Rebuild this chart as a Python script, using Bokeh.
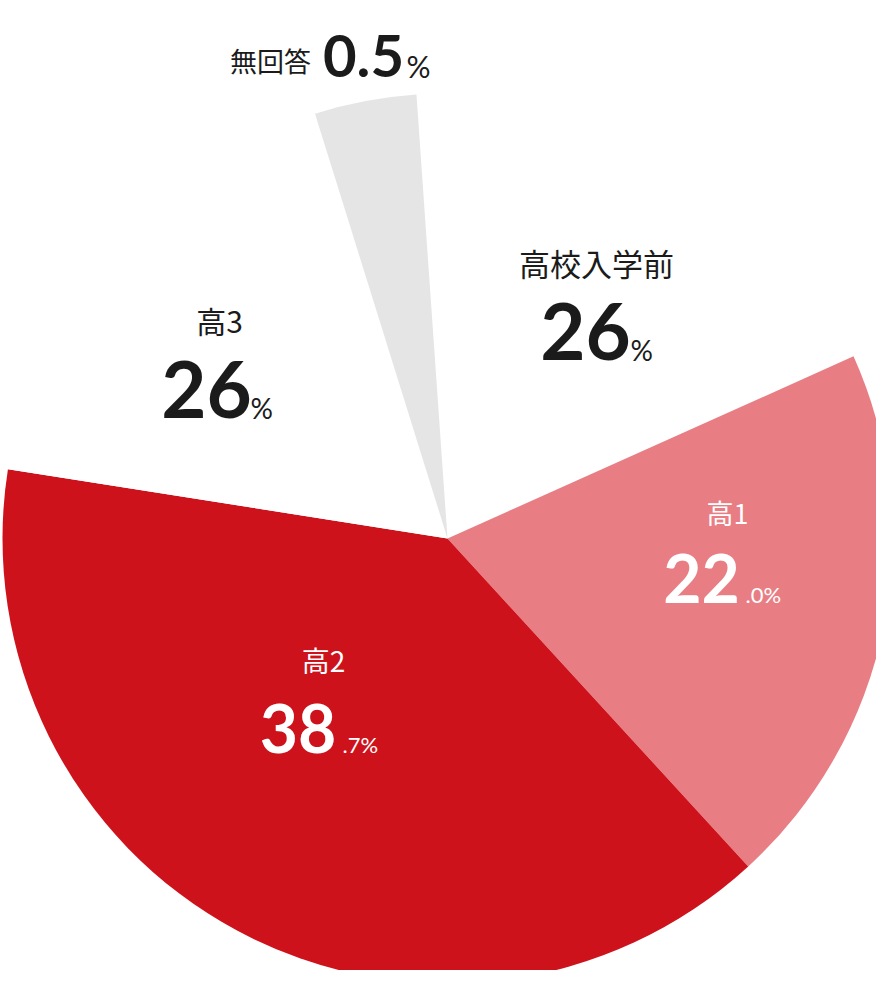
import math
from bokeh.plotting import figure
from bokeh.models import ColumnDataSource, Range1d
from bokeh.core.properties import value
from bokeh.embed import file_html
from bokeh.resources import INLINE

# ---- data ----
categories = ["高校入学前", "高1", "高2", "高3", "無回答"]
shares = [19.4, 19.9, 39.3, 17.7, 3.7]          # drawn share of the circle (%)
value_main = ["26", "22", "38", "26", "0.5"]     # printed value, large part
value_suffix = ["%", ".0%", ".7%", "%", "%"]     # printed value, small part
colors = ["#FFFFFF", "#E87E84", "#CE121C", "#FFFFFF", "#E5E5E5"]

# ---- figure ----
W, H = 876, 970
p = figure(width=W, height=H, x_range=Range1d(0, W), y_range=Range1d(0, H),
           output_backend="svg", toolbar_location=None, min_border=0,
           outline_line_color=None)
p.axis.visible = False
p.grid.visible = False
p.background_fill_color = "white"
p.border_fill_color = "white"

cx, cy, R = 447, H - 538, 445
start_deg = -4.0  # clockwise from 12 o'clock
total = sum(shares)
starts, ends = [], []
acc = start_deg
for s in shares:
    a1 = acc + s / total * 360.0
    starts.append(math.radians(90 - acc))
    ends.append(math.radians(90 - a1))
    acc = a1
src = ColumnDataSource(dict(cat=categories, start=starts, end=ends, color=colors))
p.wedge(x=cx, y=cy, radius=R, start_angle="start", end_angle="end",
        direction="clock", fill_color="color", line_color=None, source=src)

DARK = "#1B1B1B"
CJK = "Noto Sans CJK JP"
NUM = "Lato"
NUM_SMALL = "Lato"

def txt(xp, yp, s, size, color, font, align, baseline, style="normal"):
    p.text(x=[xp], y=[H - yp], text=[s], text_font=value(font),
           text_font_size=f"{size}px", text_color=color, text_align=align,
           text_baseline=baseline, text_font_style=style)

# layout per category: name centre, number ink span/baseline/size, suffix left/size, colour
layout = [
    dict(nx=596, ny=265, ns=31, m0=542, m1=628, my=360, ms=78, sx=631, ss=28, c=DARK),
    dict(nx=727, ny=515, ns=27, m0=662, m1=740, my=602, ms=66, sx=746, ss=22, c="white"),
    dict(nx=323, ny=662, ns=28, m0=255, m1=340, my=752, ms=66, sx=343, ss=22, c="white"),
    dict(nx=219, ny=322, ns=30, m0=165, m1=247, my=418, ms=78, sx=251, ss=28, c=DARK),
    dict(nx=270, ny=63, ns=27, m0=323, m1=403, my=77, ms=58, sx=407, ss=30, c=DARK),
]
K = 0.37  # renderer places the alphabetic baseline this many ems low
for i, L in enumerate(layout):
    txt(L["nx"], L["ny"] - 3, categories[i], L["ns"], L["c"], CJK, "center", "middle")
    txt((L["m0"] + L["m1"]) / 2, L["my"] - K * L["ms"], value_main[i], L["ms"],
        L["c"], NUM, "center", "alphabetic", "bold")
    txt(L["sx"] - 1, L["my"] - K * L["ss"], value_suffix[i], L["ss"], L["c"],
        NUM_SMALL, "left", "alphabetic")

open("out.html", "w").write(file_html(p, INLINE))
